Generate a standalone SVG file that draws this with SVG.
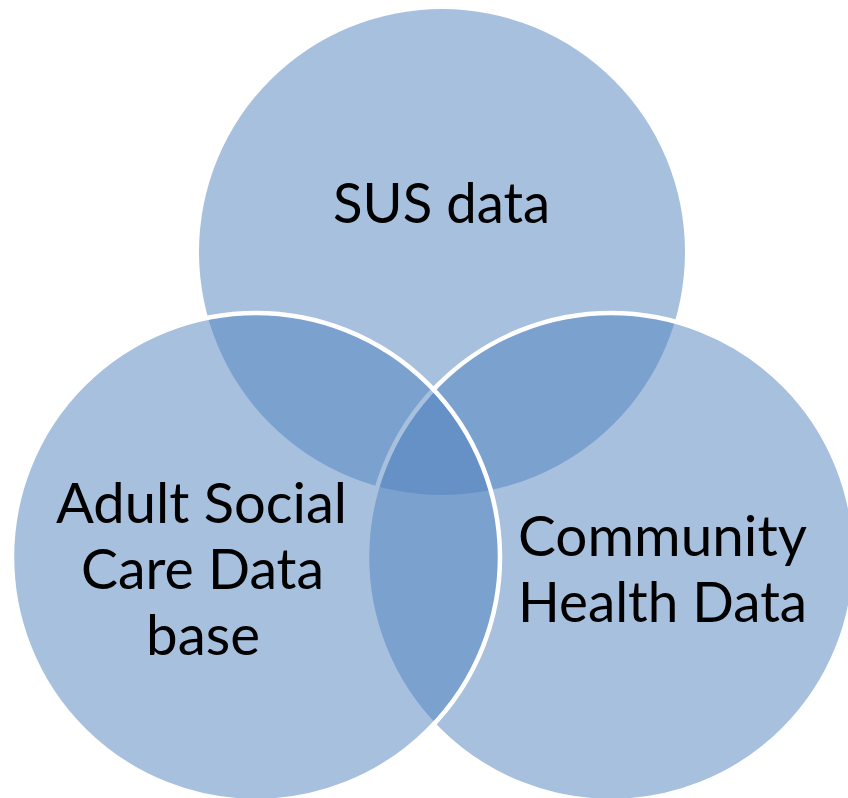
<svg xmlns="http://www.w3.org/2000/svg" width="848" height="798" viewBox="0 0 848 798">
  <style>
    .c { fill: #4F81BD; fill-opacity: 0.5; }
    .s { stroke: #FFFFFF; stroke-width: 4.5; }
    .t { font-family: Lato, "Open Sans", "Liberation Sans", sans-serif; font-size: 56px; fill: #000000; text-anchor: middle; }
  </style>
  <rect x="0" y="0" width="848" height="798" fill="#FFFFFF"/>
  <g id="node-sus">
    <circle class="c" cx="442" cy="252" r="243"/>
    <text class="t" x="441.5" y="223" textLength="217" lengthAdjust="spacingAndGlyphs">SUS data</text>
  </g>
  <g id="node-community">
    <circle class="c s" cx="611" cy="557" r="244"/>
    <text class="t" x="662.5" y="556" textLength="289" lengthAdjust="spacingAndGlyphs">Community</text>
    <text class="t" x="662.5" y="622" textLength="289" lengthAdjust="spacingAndGlyphs">Health Data</text>
  </g>
  <g id="node-adult">
    <circle class="c s" cx="256" cy="557" r="244"/>
    <text class="t" x="201.5" y="523" textLength="291" lengthAdjust="spacingAndGlyphs">Adult Social</text>
    <text class="t" x="202.5" y="589" textLength="243" lengthAdjust="spacingAndGlyphs">Care Data</text>
    <text class="t" x="203" y="655" textLength="114" lengthAdjust="spacingAndGlyphs">base</text>
  </g>
  <g id="connectors"></g>
</svg>
